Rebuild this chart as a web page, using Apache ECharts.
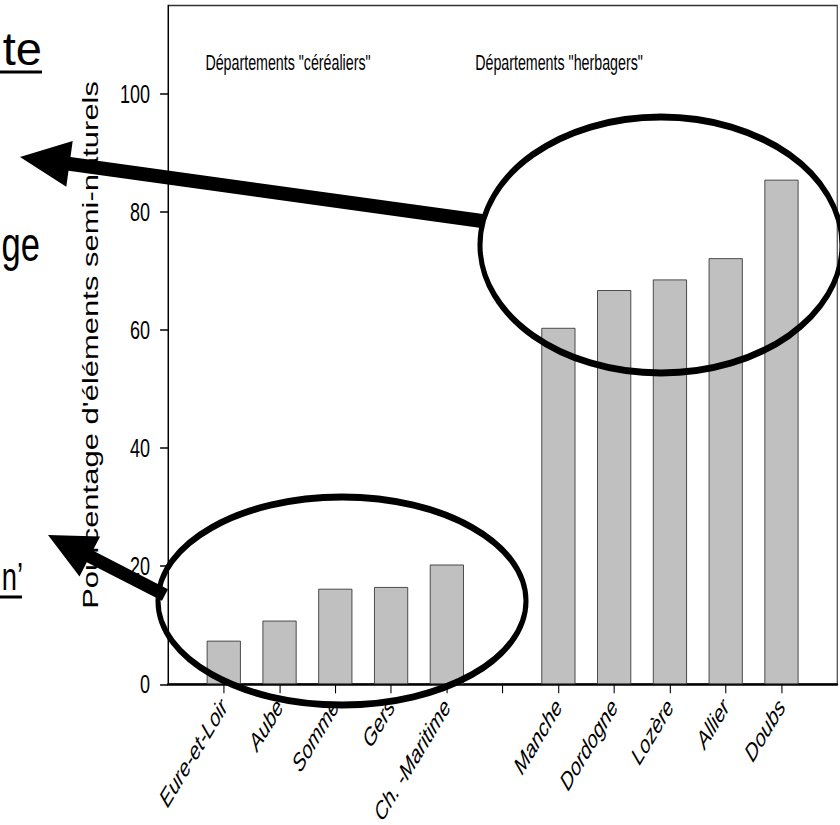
<!DOCTYPE html>
<html>
<head>
<meta charset="utf-8">
<script src="https://cdn.jsdelivr.net/npm/echarts@6/dist/echarts.min.js"></script>
<style>
  html, body { margin: 0; padding: 0; background: #fff; overflow: hidden; }
  #c { transform-origin: 0 0; }
</style>
</head>
<body>
<div id="c"></div>
<script>
// ---- data ----
const cerealDepts = ['Eure-et-Loir', 'Aube', 'Somme', 'Gers', 'Ch. -Maritime'];
const cerealValues = [7.4, 10.8, 16.2, 16.5, 20.3];
const grassDepts = ['Manche', 'Dordogne', 'Lozère', 'Allier', 'Doubs'];
const grassValues = [60.4, 66.8, 68.6, 72.2, 85.5];
const yTicks = [0, 20, 40, 60, 80, 100];
const groupTitles = ['Départements "céréaliers"', 'Départements "herbagers"'];
const yTitle = "Pourcentage d'éléments semi-naturels";
const slideFragments = ['te', 'ge', 'n’'];

// ---- build ----
const categories = [''].concat(cerealDepts, [''], grassDepts, ['']);
const values = [null].concat(cerealValues, [null], grassValues, [null]);

// the slide is horizontally compressed: draw wide, then squeeze
const S = 0.72;
const W = 840 / S;
const X = v => v / S;
const el = document.getElementById('c');
el.style.width = W + 'px';
el.style.height = '825px';
el.style.transform = 'scaleX(' + S + ')';

const FONT = "'Liberation Sans', Arial, Helvetica, sans-serif";
const P = pts => pts.map(p => [X(p[0]), p[1]]);

const chart = echarts.init(el, null, { renderer: 'svg' });
chart.setOption({
  animation: false,
  backgroundColor: '#fff',
  textStyle: { fontFamily: FONT },
  grid: {
    left: X(168), right: W - X(837), top: 5.5, bottom: 825 - 684.3,
    containLabel: false, outerBoundsMode: 'none',
    show: true, borderColor: '#333', borderWidth: 1.5, backgroundColor: 'transparent'
  },
  xAxis: {
    type: 'category',
    data: categories,
    boundaryGap: false,
    axisLine: { lineStyle: { color: '#000', width: 2.5 } },
    axisTick: {
      length: 9, lineStyle: { color: '#000', width: 1.5 },
      interval: (i) => i >= 1 && i <= categories.length - 2
    },
    axisLabel: {
      interval: 0, rotate: 50, margin: 18, fontSize: 25, fontStyle: 'italic',
      color: '#000', fontFamily: FONT, hideOverlap: false
    },
    splitLine: { show: false }
  },
  yAxis: {
    type: 'value',
    min: 0, max: 115, interval: 20,
    name: yTitle,
    nameLocation: 'middle',
    nameGap: 92,
    nameTextStyle: { fontSize: 31, color: '#000', fontFamily: FONT },
    axisLine: { show: true, lineStyle: { color: '#000', width: 1.5 } },
    axisTick: { show: true, length: 11, customValues: yTicks, lineStyle: { color: '#000', width: 1.5 } },
    axisLabel: { margin: 25, fontSize: 25, color: '#000', customValues: yTicks, fontFamily: FONT },
    splitLine: { show: false }
  },
  series: [{
    type: 'bar',
    data: values,
    barWidth: X(34),
    itemStyle: { color: '#c0c0c0', borderColor: '#333', borderWidth: 1 },
    z: 2
  }],
  graphic: [
    { type: 'text', z: 50, x: X(288), y: 62, scaleX: 0.9,
      style: { text: groupTitles[0], fill: '#000', font: '22px ' + FONT, textAlign: 'center', textVerticalAlign: 'middle' } },
    { type: 'text', z: 50, x: X(559), y: 62, scaleX: 0.9,
      style: { text: groupTitles[1], fill: '#000', font: '22px ' + FONT, textAlign: 'center', textVerticalAlign: 'middle' } },
    // fragments of the slide text at the left edge
    { type: 'text', z: 50, x: X(42), y: 49, scaleX: 1.42,
      style: { text: slideFragments[0], fill: '#000', font: '46px ' + FONT, textAlign: 'right', textVerticalAlign: 'middle' } },
    { type: 'line', z: 50, shape: { x1: 0, y1: 72, x2: X(42), y2: 72 }, style: { stroke: '#000', lineWidth: 3 } },
    { type: 'text', z: 50, x: X(40), y: 244,
      style: { text: slideFragments[1], fill: '#000', font: '48px ' + FONT, textAlign: 'right', textVerticalAlign: 'middle' } },
    { type: 'text', z: 50, x: X(23), y: 577,
      style: { text: slideFragments[2], fill: '#000', font: '38px ' + FONT, textAlign: 'right', textVerticalAlign: 'middle' } },
    { type: 'line', z: 50, shape: { x1: 0, y1: 597, x2: X(22), y2: 597 }, style: { stroke: '#000', lineWidth: 3 } },
    // ellipses
    { type: 'ellipse', z: 100, shape: { cx: X(661), cy: 245, rx: X(181), ry: 128 },
      style: { fill: 'none', stroke: '#000', lineWidth: 7 } },
    { type: 'ellipse', z: 100, shape: { cx: X(342), cy: 601, rx: X(184), ry: 104 },
      style: { fill: 'none', stroke: '#000', lineWidth: 7 } },
    // arrows
    { type: 'polygon', z: 100,
      shape: { points: P([[20,157],[72.7,141.1],[70.5,157.0],[483.0,214.1],[481.0,227.9],[68.5,170.8],[66.3,186.7]]) },
      style: { fill: '#000' } },
    { type: 'polygon', z: 100,
      shape: { points: P([[48,535],[100.1,536.4],[92.8,550.6],[168.0,589.2],[162.0,600.8],[86.8,562.2],[79.5,576.4]]) },
      style: { fill: '#000' } }
  ]
});
</script>
</body>
</html>
